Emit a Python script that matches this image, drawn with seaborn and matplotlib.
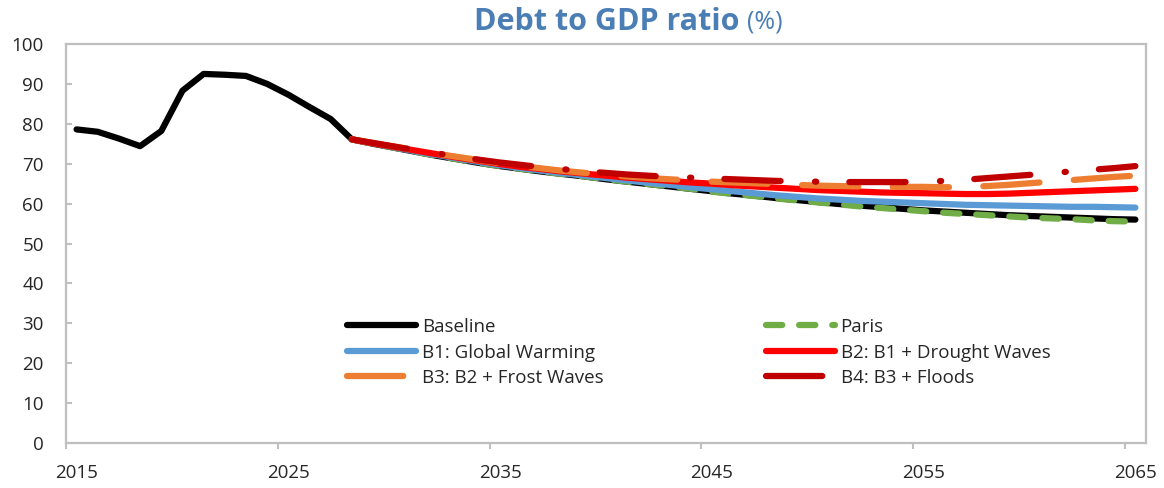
import numpy as np
import pandas as pd
import matplotlib
matplotlib.use("Agg")
import matplotlib.pyplot as plt
import seaborn as sns

# --- data ---
hist_years = list(range(2015, 2029))
baseline_hist = [78.6, 78.0, 76.3, 74.4, 78.2, 88.3, 92.5, 92.3, 92.0, 90.0,
                 87.3, 84.2, 81.2, 76.1]

proj_years = list(range(2028, 2066))
baseline_proj = [76.1, 75.0, 74.0, 73.0, 72.0, 71.1, 70.2, 69.4,
                 68.7, 68.0, 67.4, 66.8, 66.1, 65.5, 64.9, 64.3, 63.7, 63.1,
                 62.5, 62.0, 61.4, 60.9, 60.4, 59.9, 59.5, 59.1, 58.7, 58.3,
                 58.0, 57.7, 57.4, 57.1, 56.9, 56.7, 56.5, 56.3, 56.1, 56.0]
paris = [76.1, 75.0, 74.0, 73.0, 72.0, 71.1, 70.2, 69.4,
         68.7, 68.0, 67.4, 66.8, 66.1, 65.5, 64.9, 64.3, 63.7, 63.0,
         62.4, 61.9, 61.3, 60.8, 60.3, 59.8, 59.3, 58.9, 58.5, 58.1,
         57.7, 57.4, 57.1, 56.8, 56.5, 56.3, 56.1, 55.8, 55.6, 55.5]
b1 = [76.1, 75.1, 74.1, 73.1, 72.2, 71.3, 70.4, 69.6,
      68.9, 68.2, 67.6, 67.0, 66.4, 65.8, 65.2, 64.7, 64.1, 63.6,
      63.1, 62.6, 62.1, 61.7, 61.3, 61.0, 60.7, 60.5, 60.3, 60.1,
      59.9, 59.7, 59.6, 59.5, 59.4, 59.3, 59.2, 59.2, 59.1, 59.0]
b2 = [76.1, 75.1, 74.2, 73.3, 72.4, 71.5, 70.7, 69.9,
      69.2, 68.6, 68.0, 67.5, 67.0, 66.5, 66.1, 65.7, 65.3, 65.0,
      64.6, 64.3, 64.0, 63.7, 63.4, 63.2, 63.0, 62.8, 62.7, 62.6,
      62.5, 62.4, 62.4, 62.5, 62.7, 62.9, 63.1, 63.3, 63.5, 63.7]
b3 = [76.1, 75.2, 74.3, 73.4, 72.5, 71.7, 70.9, 70.1,
      69.4, 68.8, 68.2, 67.7, 67.2, 66.8, 66.4, 66.1, 65.8, 65.5,
      65.3, 65.1, 64.9, 64.7, 64.5, 64.4, 64.3, 64.2, 64.2, 64.2,
      64.1, 64.2, 64.4, 64.7, 65.1, 65.5, 65.9, 66.3, 66.7, 67.0]
b4 = [76.1, 75.2, 74.3, 73.4, 72.6, 71.8, 71.0, 70.3,
      69.7, 69.1, 68.6, 68.1, 67.7, 67.3, 67.0, 66.7, 66.5, 66.3,
      66.1, 65.9, 65.7, 65.6, 65.5, 65.4, 65.4, 65.4, 65.4, 65.5,
      65.7, 66.0, 66.4, 66.8, 67.2, 67.6, 68.1, 68.5, 68.9, 69.4]

yticks = list(range(0, 101, 10))
xtick_labels = [2015, 2025, 2035, 2045, 2055, 2065]

sns.set_theme(style="white")
plt.rcParams["font.family"] = ["Open Sans", "DejaVu Sans"]

fig = plt.figure(figsize=(11.64, 4.88), dpi=100)
ax = fig.add_axes([0.0567, 0.0922, 0.9278, 0.8176])

LW = 4.5
series = [
    # label, years, values, color, dash pattern (None = solid)
    ("Baseline", hist_years + proj_years[1:], baseline_hist + baseline_proj[1:], "#000000", None),
    ("Paris", proj_years, paris, "#70AD47", (2.6, 2.7)),
    ("B1: Global Warming", proj_years, b1, "#5B9BD5", None),
    ("B2: B1 + Drought Waves", proj_years, b2, "#FF0000", None),
    ("B3: B2 + Frost Waves", proj_years, b3, "#ED7D31", (9.0, 5.5)),
    ("B4: B3 + Floods", proj_years, b4, "#C00000", (9.0, 5.5, 0.2, 5.3)),
]

handles = {}
for label, xs, ys, color, dash in series:
    sns.lineplot(x=xs, y=ys, color=color, linewidth=LW, ax=ax, label=label,
                 solid_capstyle="round", dash_capstyle="round")
    line = ax.lines[-1]
    if dash is not None:
        line.set_dashes(dash)
    handles[label] = line

ax.set_xlim(2014.5, 2065.5)
ax.set_ylim(0, 100)
ax.set_yticks(yticks)
# tick marks sit between categories, labels under the category
ax.set_xticks([2014.5 + 10 * i for i in range(6)])
ax.set_xticklabels([])
ax.set_xticks(xtick_labels, minor=True)
ax.set_xticklabels([str(v) for v in xtick_labels], minor=True)
ax.tick_params(axis="x", which="minor", length=0, pad=15, labelsize=13.5)
ax.tick_params(axis="x", which="major", length=4.5, width=1.5, color="#BFBFBF", direction="out")
ax.tick_params(axis="y", length=4, width=1.5, color="#BFBFBF", direction="in",
               labelsize=13.5, pad=16)
ax.tick_params(bottom=True, left=True)
for sp in ax.spines.values():
    sp.set_color("#BFBFBF")
    sp.set_linewidth(1.6)
ax.set_xlabel("")
ax.set_ylabel("")

order = ["Baseline", "B1: Global Warming", "B3: B2 + Frost Waves",
         "Paris", "B2: B1 + Drought Waves", "B4: B3 + Floods"]
ax.legend([handles[k] for k in order], order, ncol=2, frameon=False,
          loc="upper left", bbox_to_anchor=(0.253, 0.332), fontsize=13.5,
          handlelength=3.7, handletextpad=0.3, columnspacing=8.65,
          labelspacing=0.40, borderaxespad=0)

title_color = "#4A7EB5"
fig.text(0.6357, 0.955, "Debt to GDP ratio", ha="right", va="center",
         fontsize=22, fontweight="bold", color=title_color)
fig.text(0.6418, 0.955, "(%)", ha="left", va="center", fontsize=18,
         color=title_color)

fig.savefig("out.png", dpi=100)
